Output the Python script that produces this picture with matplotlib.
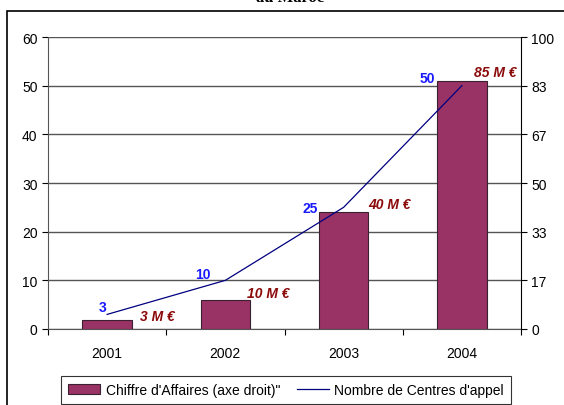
import matplotlib
matplotlib.use("Agg")
import matplotlib.pyplot as plt
from matplotlib.patches import Rectangle
from matplotlib.ticker import FixedLocator, FixedFormatter
import numpy as np

plt.rcParams['font.family'] = ['Liberation Sans', 'DejaVu Sans']

years = ['2001', '2002', '2003', '2004']
chiffre_affaires = [3, 10, 40, 85]          # M EUR, right axis (bars)
nb_centres = [3, 10, 25, 50]                # left axis (line)
ca_labels = ['3 M €', '10 M €', '40 M €', '85 M €']
left_ticks = [0, 10, 20, 30, 40, 50, 60]
right_ticks_lbl = ['0', '17', '33', '50', '67', '83', '100']

W, H = 564, 406
fig = plt.figure(figsize=(W / 100, H / 100), dpi=100)

# outer chart-area border (extends past the image on right/bottom)
fig.patches.append(Rectangle((7 / W, -0.1), 1.2, 1 - 12 / H + 0.1,
                             transform=fig.transFigure, fill=False,
                             edgecolor='black', linewidth=1.2, zorder=0))

# truncated title
fig.text(290 / W, 1 - 6 / H, 'au Maroc', ha='center', va='bottom',
         fontsize=12, fontweight='bold', family='Liberation Serif')

ax = fig.add_axes([48 / W, 1 - 330 / H, (521 - 48) / W, (330 - 38) / H])
ax2 = ax.twinx()

x = np.arange(len(years)) + 0.5

# bars on right axis
bars = ax2.bar(x, chiffre_affaires, width=0.42, color='#993366',
               edgecolor='#3a2030', linewidth=0.8,
               label="Chiffre d'Affaires (axe droit)\"", zorder=2)
ax2.set_ylim(0, 100)
ax2.yaxis.set_major_locator(FixedLocator(np.linspace(0, 100, 7)))
ax2.yaxis.set_major_formatter(FixedFormatter(right_ticks_lbl))

# line for left-axis series, drawn in right-axis units so it sits above bars
line_vals_r = [v * 100 / 60 for v in nb_centres]
ln, = ax2.plot(x, line_vals_r, color='#000080', linewidth=0.9,
               label="Nombre de Centres d'appel", zorder=3)

ax.set_ylim(0, 60)
ax.set_xlim(0, 4)
ax.set_yticks(left_ticks)
ax.yaxis.grid(True, color='#555555', linewidth=1)
ax.set_axisbelow(True)
ax.set_xticks([0, 1, 2, 3, 4])
ax.set_xticklabels([])
ax.set_xticks(x, minor=True)
ax.set_xticklabels(years, minor=True)
ax.tick_params(axis='x', which='minor', length=0, pad=12, labelsize=10)
ax.tick_params(axis='x', which='major', length=4, direction='out', width=0.8)
ax.tick_params(axis='y', length=4, direction='out', labelsize=10, width=0.8)
ax2.tick_params(axis='y', length=4, direction='out', labelsize=10, width=0.8)

for a in (ax, ax2):
    a.spines['top'].set_visible(False)
    a.set_facecolor('none')
ax.spines['right'].set_visible(False)
ax.spines['left'].set_color('#555555')
ax.spines['bottom'].set_color('#555555')
ax2.spines['left'].set_visible(False)
ax2.spines['bottom'].set_visible(False)
ax2.spines['right'].set_color('black')

# data labels: counts (blue)
cnt_offsets = [(-5, 7), (-23, 6), (-33, -1), (-35, 8)]
for xi, v, off in zip(x, line_vals_r, cnt_offsets):
    ax2.annotate(str(int(round(v * 60 / 100))), (xi, v), xytext=off,
                 textcoords='offset pixels', ha='center', va='center',
                 color='#1a1aff', fontweight='bold', fontsize=10, zorder=4)

# data labels: revenue (dark red italic)
ca_offsets = [(50, 4), (43, 7), (46, 8), (33, 9)]
for xi, v, lbl, off in zip(x, chiffre_affaires, ca_labels, ca_offsets):
    ax2.annotate(lbl, (xi, v), xytext=off, textcoords='offset pixels',
                 ha='center', va='center', color='#8b0a0a',
                 fontweight='bold', fontstyle='italic', fontsize=10, zorder=4)

leg = fig.legend(handles=[bars, ln], loc='upper center',
                 bbox_to_anchor=(286 / W, 1 - 377 / H), ncol=2,
                 frameon=True, fancybox=False, edgecolor='black',
                 fontsize=10, handlelength=2.3, columnspacing=1.2,
                 handletextpad=0.4, borderpad=0.5, borderaxespad=0)
leg.get_frame().set_linewidth(0.8)

fig.savefig('out.png', dpi=100)
